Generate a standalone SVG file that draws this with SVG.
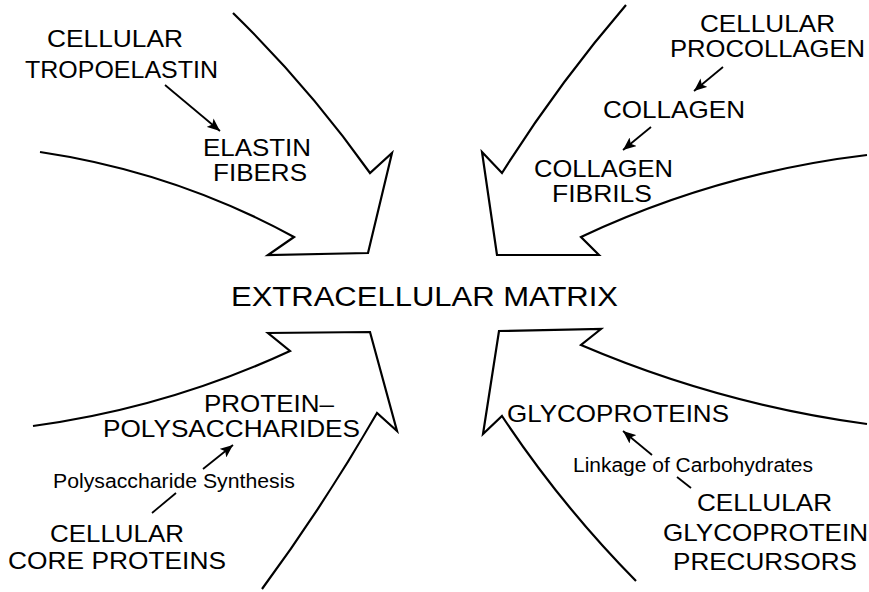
<svg xmlns="http://www.w3.org/2000/svg" width="869" height="592" viewBox="0 0 869 592">
<defs>
<style>
.bg{fill:#fff}
.flow{fill:none;stroke:#000;stroke-width:2.2;stroke-linejoin:miter;stroke-miterlimit:10}
.conn{fill:none;stroke:#000;stroke-width:1.8}
text{font-family:"Liberation Sans",Arial,Helvetica,sans-serif;fill:#000}
.lbl{font-size:24px}
.ctr{font-size:27px}
.sm{font-size:19.5px}
</style>
<marker id="ah" viewBox="0 0 13 11" refX="13" refY="5.5" markerWidth="13" markerHeight="11" markerUnits="userSpaceOnUse" orient="auto">
<path d="M0,0 L13,5.5 L0,11 L3,5.5 Z" fill="#000"/>
</marker>
</defs>
<rect class="bg" x="0" y="0" width="869" height="592"/>

<g id="flows">
<path class="flow" d="M233,13 Q309,87 370,173 L392,153 L368,253 L268,255 L294,237 Q175,172 40,152"/>
<path class="flow" d="M626,5 Q558,84 502,173 L482,152 L497,255 L599,255 L581,237 Q717,173 867,155"/>
<path class="flow" d="M33,426 Q167,408 290,351 L268,333 L370,332 L397,431 L377,413 Q324,505 262,589"/>
<path class="flow" d="M867,424 Q719,404 581,345 L601,329 L499,331 L483,434 L502,416 Q561,505 636,581"/>
</g>

<g id="connectors">
<line class="conn" x1="165" y1="85" x2="220" y2="131" marker-end="url(#ah)"/>
<line class="conn" x1="723" y1="67" x2="694" y2="91" marker-end="url(#ah)"/>
<line class="conn" x1="651" y1="127" x2="623" y2="150" marker-end="url(#ah)"/>
<line class="conn" x1="152" y1="513" x2="176" y2="493"/>
<line class="conn" x1="203" y1="469" x2="233" y2="445" marker-end="url(#ah)"/>
<line class="conn" x1="691" y1="488" x2="677" y2="477"/>
<line class="conn" x1="652" y1="455" x2="623" y2="431" marker-end="url(#ah)"/>
</g>

<g id="matrix">
<text class="ctr" x="231" y="306" textLength="387" lengthAdjust="spacingAndGlyphs">EXTRACELLULAR  MATRIX</text>
</g>

<g id="tropoelastin">
<text class="lbl" x="47" y="47" textLength="136" lengthAdjust="spacingAndGlyphs">CELLULAR</text>
<text class="lbl" x="25" y="78" textLength="193" lengthAdjust="spacingAndGlyphs">TROPOELASTIN</text>
</g>
<g id="elastin">
<text class="lbl" x="203" y="156" textLength="108" lengthAdjust="spacingAndGlyphs">ELASTIN</text>
<text class="lbl" x="213" y="181" textLength="94" lengthAdjust="spacingAndGlyphs">FIBERS</text>
</g>

<g id="procollagen">
<text class="lbl" x="700" y="32" textLength="135" lengthAdjust="spacingAndGlyphs">CELLULAR</text>
<text class="lbl" x="670" y="57" textLength="195" lengthAdjust="spacingAndGlyphs">PROCOLLAGEN</text>
</g>
<g id="collagen">
<text class="lbl" x="603" y="118" textLength="142" lengthAdjust="spacingAndGlyphs">COLLAGEN</text>
</g>
<g id="fibrils">
<text class="lbl" x="534" y="177" textLength="139" lengthAdjust="spacingAndGlyphs">COLLAGEN</text>
<text class="lbl" x="552" y="202" textLength="100" lengthAdjust="spacingAndGlyphs">FIBRILS</text>
</g>

<g id="proteoglycans">
<text class="lbl" x="204" y="412" textLength="130" lengthAdjust="spacingAndGlyphs">PROTEIN–</text>
<text class="lbl" x="103" y="437" textLength="257" lengthAdjust="spacingAndGlyphs">POLYSACCHARIDES</text>
</g>
<g id="synthesis">
<text class="sm" x="53" y="488" textLength="242" lengthAdjust="spacingAndGlyphs">Polysaccharide Synthesis</text>
</g>
<g id="coreproteins">
<text class="lbl" x="50" y="542" textLength="134" lengthAdjust="spacingAndGlyphs">CELLULAR</text>
<text class="lbl" x="8" y="569" textLength="218" lengthAdjust="spacingAndGlyphs">CORE PROTEINS</text>
</g>

<g id="glycoproteins">
<text class="lbl" x="507" y="422" textLength="222" lengthAdjust="spacingAndGlyphs">GLYCOPROTEINS</text>
</g>
<g id="linkage">
<text class="sm" x="573" y="472" textLength="240" lengthAdjust="spacingAndGlyphs">Linkage of Carbohydrates</text>
</g>
<g id="precursors">
<text class="lbl" x="697" y="511" textLength="135" lengthAdjust="spacingAndGlyphs">CELLULAR</text>
<text class="lbl" x="663" y="541" textLength="205" lengthAdjust="spacingAndGlyphs">GLYCOPROTEIN</text>
<text class="lbl" x="673" y="570" textLength="184" lengthAdjust="spacingAndGlyphs">PRECURSORS</text>
</g>
</svg>
